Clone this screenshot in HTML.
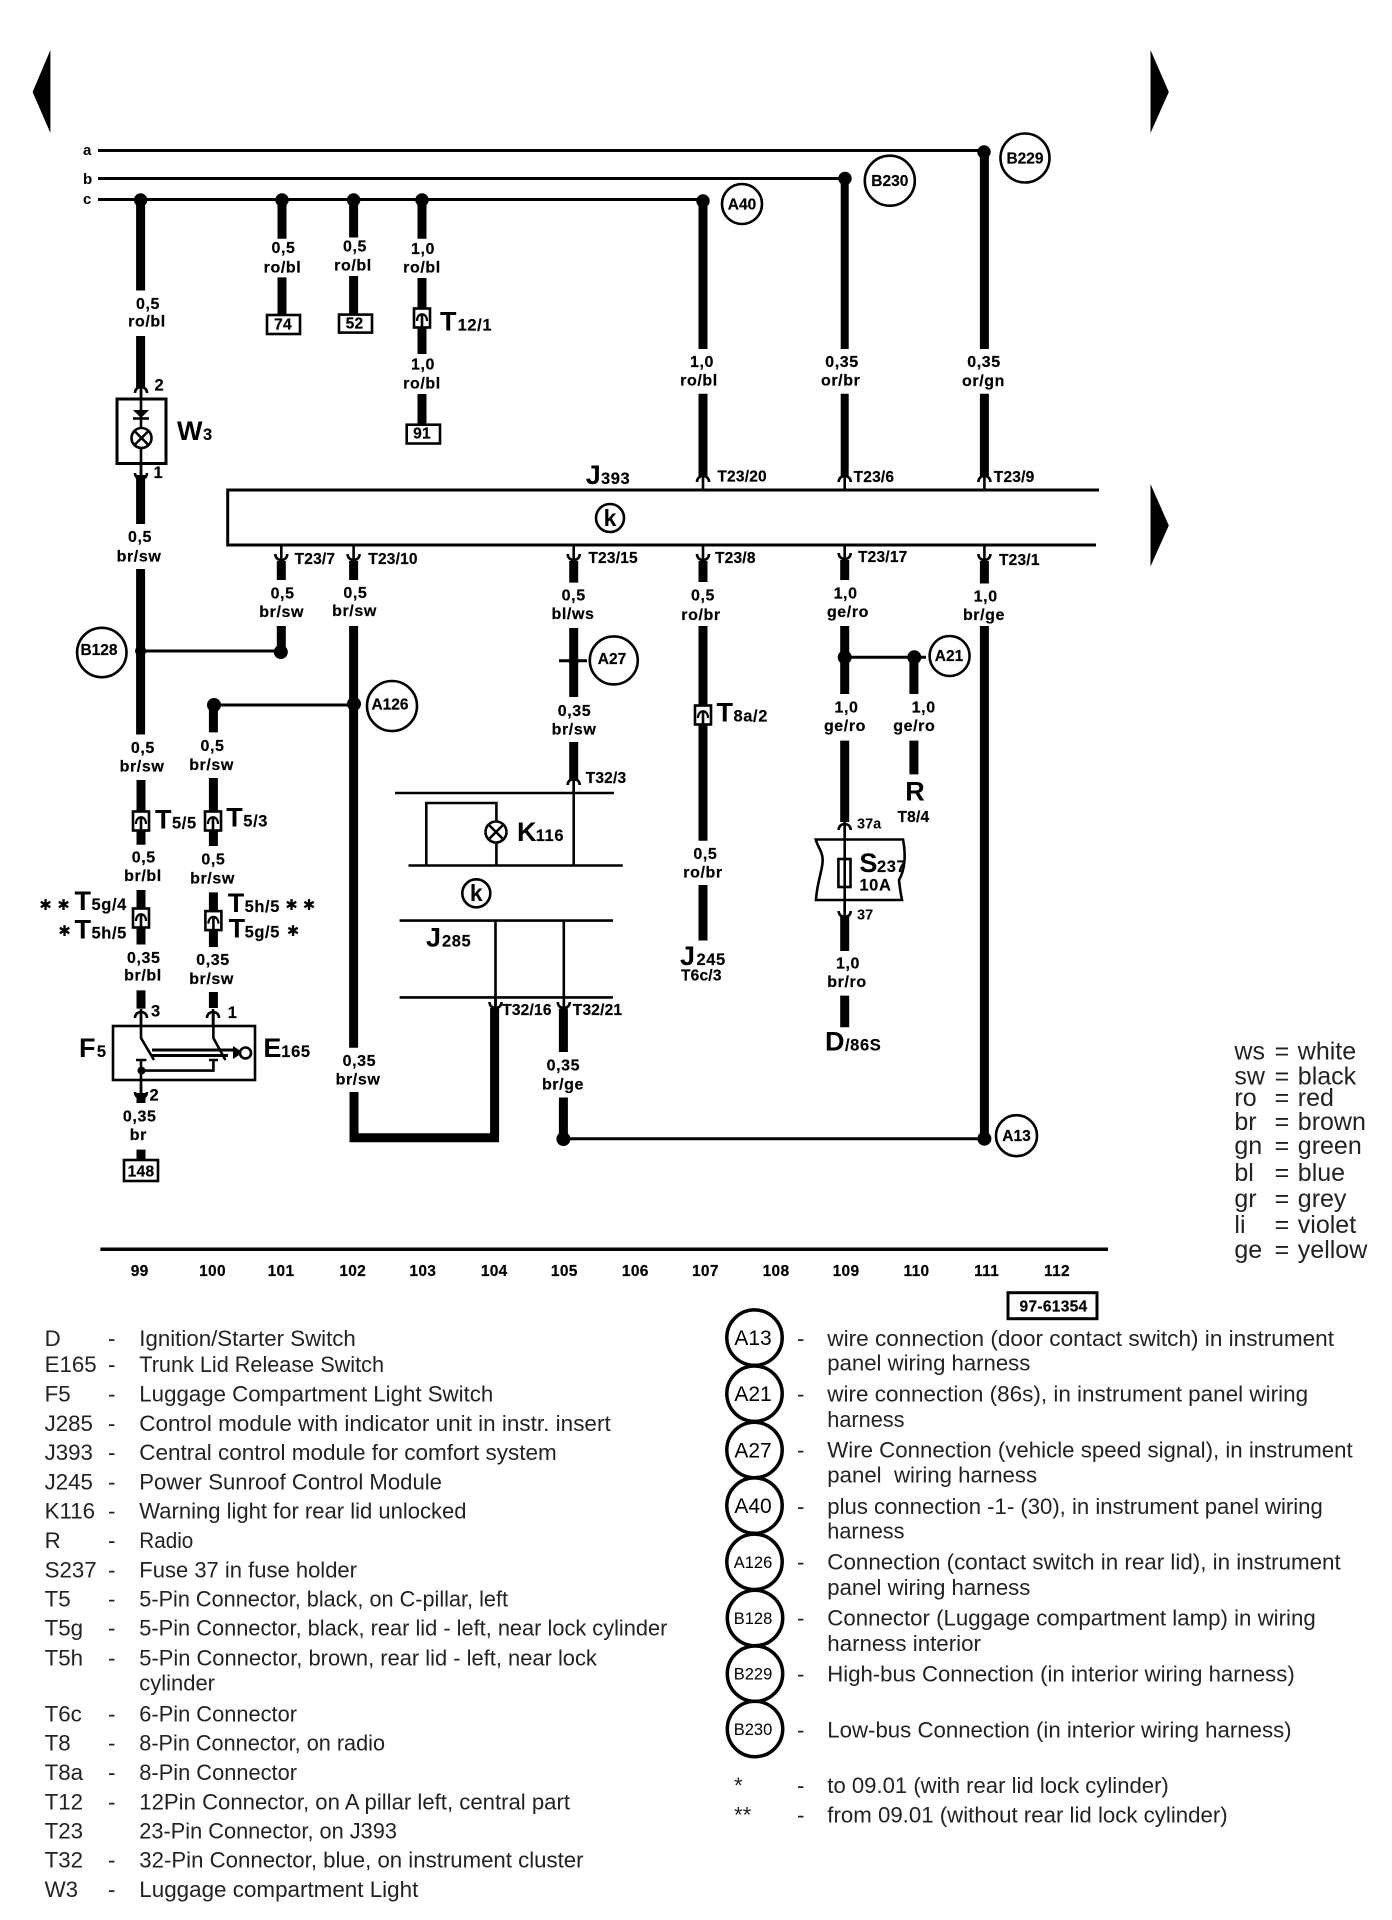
<!DOCTYPE html>
<html><head><meta charset="utf-8"><style>
html,body{margin:0;padding:0;background:#fff}
svg{display:block}
text{font-family:"Liberation Sans",sans-serif;fill:#000}
.l{font-weight:bold;font-size:16px;letter-spacing:.6px;text-anchor:middle;stroke:#000;stroke-width:.2}
.n{font-weight:bold;font-size:15.5px;text-anchor:middle;letter-spacing:.3px;stroke:#000;stroke-width:.2}
.p{font-weight:bold;font-size:15.5px;letter-spacing:.2px;stroke:#000;stroke-width:.2}
.b{font-weight:bold;font-size:27px}
.s{font-weight:bold;font-size:16.5px;letter-spacing:.6px;stroke:#000;stroke-width:.15}
.c{font-weight:bold;font-size:15.5px;text-anchor:middle;stroke:#000;stroke-width:.2}
.t{font-size:22.3px;fill:#222}
.g{font-size:25px;fill:#222}
.a{font-family:"DejaVu Sans",sans-serif;font-weight:bold;font-size:15px;text-anchor:middle}
.w{stroke:#000;stroke-width:9;fill:none}
.h{stroke:#000;stroke-width:3;fill:none}
.o{stroke:#000;stroke-width:2.6;fill:#fff}
.k{stroke:#000;stroke-width:2.6;fill:none}
</style></head><body>
<svg xmlns="http://www.w3.org/2000/svg" width="1392" height="1920" viewBox="0 0 1392 1920">
<defs>
<g id="up"><path d="M-6 6C-6-2 6-2 6 6" fill="none" stroke="#000" stroke-width="2.6"/><path d="M0-3V14" stroke="#000" stroke-width="2.6"/></g>
<g id="dn"><path d="M-6-6C-6 2 6 2 6-6" fill="none" stroke="#000" stroke-width="2.6"/><path d="M0 3V-14" stroke="#000" stroke-width="2.6"/></g>
<g id="cn"><rect x="-8" y="-9.5" width="16" height="19" fill="#fff" stroke="#000" stroke-width="2.6"/><path d="M-5 3C-5-6 5-6 5 3" fill="none" stroke="#000" stroke-width="2.2"/><path d="M0-4V9" stroke="#000" stroke-width="2.6"/></g>
</defs>

<!-- page arrows -->
<polygon points="50.4,50 32.6,92 50.4,133"/>
<polygon points="1150.5,50 1168.8,92 1150.5,133"/>
<polygon points="1150.5,484 1168.8,525.5 1150.5,566.5"/>

<!-- buses -->
<path class="h" d="M98 150.500H984M98 178.500H845M98 199.500H703"/>
<text x="83" y="155" font-size="15" font-weight="bold">a</text>
<text x="83" y="184" font-size="15" font-weight="bold">b</text>
<text x="83" y="204" font-size="15" font-weight="bold">c</text>

<!-- thick wires -->
<path class="w" d="M140.600 199V290.500M140.600 336V388M140.600 475V524M140.600 569V734.500
M282 199V238.700M282 277.400V314
M353.600 199V237.500M353.600 276V314
M422 199V238.700M422 278V354M422 394V424
M703 201V349M703 393.700V477
M984.400 152V349M984.400 393.700V477
M281.300 561V580M281.300 626V652
M353.600 561V580M353.600 626V1047.700
M573.700 561V582.600M573.700 628V697M573.700 742V781
M703 561V582M703 626V840.800M703 885V940.500
M844.700 560V580M844.700 626V694M844.700 740.600V822M844.700 915.400V951M844.700 995.600V1027.300
M984.400 561V583.500M984.400 626V1138.700
M913.900 657V694M913.900 740.600V774.400
M213.400 705V732.400M213.400 778V846M213.400 892.400V947M213.400 992V1008
M141 780V844.700M141 890V944.500M141 990.400V1008.600
M141 1093V1103M141 1149.600V1160
M563.400 1008.600V1052M563.400 1097.500V1138.700"/>
<path class="w" d="M844.700 178V349M844.700 393.700V477" style="stroke-width:8"/>
<path class="w" d="M354 1092V1137.700H494.600V1008"/>

<!-- thin connections -->
<path class="h" d="M140.600 651H280.800M214 705H354M559 660.800H587M844.700 657.300H926M563 1138.700H984.400"/>

<!-- dots -->
<g>
<circle cx="140.600" cy="200" r="6.700"/><circle cx="282" cy="200" r="6.700"/><circle cx="353.600" cy="200" r="6.700"/><circle cx="422" cy="200" r="6.700"/>
<circle cx="703" cy="201" r="6.700"/><circle cx="845" cy="178.500" r="6.700"/><circle cx="984" cy="152" r="6.700"/>
<circle cx="140.600" cy="651" r="5.500"/><circle cx="280.800" cy="652" r="7"/><circle cx="214" cy="705" r="7"/><circle cx="354" cy="704" r="7"/>
<circle cx="573.700" cy="661" r="5"/><circle cx="844.700" cy="657.300" r="7"/><circle cx="914.300" cy="657.300" r="7"/>
<circle cx="563.400" cy="1139" r="7"/><circle cx="984.400" cy="1138.700" r="7"/>
</g>

<!-- reference circles -->
<g class="o">
<circle class="o" cx="742" cy="204" r="20"/><circle class="o" cx="889.800" cy="180.700" r="25"/><circle class="o" cx="1025" cy="158" r="24.500"/>
<circle class="o" cx="101.800" cy="652.500" r="24.700"/><circle class="o" cx="392" cy="706" r="25"/><circle class="o" cx="613.800" cy="660.400" r="24"/>
<circle class="o" cx="949.600" cy="656" r="20"/><circle class="o" cx="1016.500" cy="1135.700" r="20.500"/>
</g>
<text class="c" x="742" y="209.500">A40</text><text class="c" x="889.800" y="186">B230</text><text class="c" x="1025" y="163.500">B229</text>
<text class="c" x="99" y="655">B128</text><text class="c" x="390" y="709.500">A126</text><text class="c" x="612" y="664">A27</text>
<text class="c" x="949" y="661">A21</text><text class="c" x="1016.500" y="1141">A13</text>

<!-- wire labels -->
<text class="l" x="148" y="309">0,5</text><text class="l" x="147" y="326.500">ro/bl</text>
<text class="l" x="283.500" y="253">0,5</text><text class="l" x="282.500" y="272.500">ro/bl</text>
<text class="l" x="355" y="251.300">0,5</text><text class="l" x="353" y="270.500">ro/bl</text>
<text class="l" x="423" y="253.800">1,0</text><text class="l" x="422" y="272.500">ro/bl</text>
<text class="l" x="423" y="369.600">1,0</text><text class="l" x="422" y="388.400">ro/bl</text>
<text class="l" x="702" y="367">1,0</text><text class="l" x="699" y="385.600">ro/bl</text>
<text class="l" x="842" y="367">0,35</text><text class="l" x="840.700" y="385.600">or/br</text>
<text class="l" x="984" y="367">0,35</text><text class="l" x="983.500" y="386">or/gn</text>
<text class="l" x="140" y="542">0,5</text><text class="l" x="139" y="561.500">br/sw</text>
<text class="l" x="282.600" y="598.500">0,5</text><text class="l" x="281.700" y="617">br/sw</text>
<text class="l" x="355.400" y="598">0,5</text><text class="l" x="354.500" y="616">br/sw</text>
<text class="l" x="573.700" y="600.600">0,5</text><text class="l" x="573" y="619">bl/ws</text>
<text class="l" x="703" y="600.600">0,5</text><text class="l" x="701" y="620">ro/br</text>
<text class="l" x="845.600" y="598.500">1,0</text><text class="l" x="848" y="617">ge/ro</text>
<text class="l" x="985.700" y="601.400">1,0</text><text class="l" x="984" y="620">br/ge</text>
<text class="l" x="142.900" y="752.800">0,5</text><text class="l" x="142" y="771.400">br/sw</text>
<text class="l" x="212.500" y="751">0,5</text><text class="l" x="211.600" y="770">br/sw</text>
<text class="l" x="143.800" y="862.500">0,5</text><text class="l" x="143" y="881">br/bl</text>
<text class="l" x="213.400" y="864.700">0,5</text><text class="l" x="212.500" y="883.700">br/sw</text>
<text class="l" x="143.800" y="963">0,35</text><text class="l" x="143" y="980.400">br/bl</text>
<text class="l" x="213" y="965">0,35</text><text class="l" x="211.600" y="984">br/sw</text>
<text class="l" x="139.700" y="1121.400">0,35</text><text class="l" x="138.400" y="1140">br</text>
<text class="l" x="359.400" y="1066">0,35</text><text class="l" x="358" y="1084.500">br/sw</text>
<text class="l" x="574.500" y="716">0,35</text><text class="l" x="574" y="734.500">br/sw</text>
<text class="l" x="563.400" y="1070.700">0,35</text><text class="l" x="563" y="1089.300">br/ge</text>
<text class="l" x="705.400" y="859">0,5</text><text class="l" x="703" y="877.600">ro/br</text>
<text class="l" x="846.500" y="712.400">1,0</text><text class="l" x="845" y="731">ge/ro</text>
<text class="l" x="923.700" y="712.400">1,0</text><text class="l" x="914.300" y="731">ge/ro</text>
<text class="l" x="848" y="968.700">1,0</text><text class="l" x="847" y="987">br/ro</text>

<!-- terminal boxes -->
<rect class="o" x="267" y="315" width="33" height="19"/><text class="n" x="283" y="329.500">74</text>
<rect class="o" x="339" y="314.600" width="33" height="18"/><text class="n" x="354.500" y="328.500">52</text>
<rect class="o" x="406.700" y="424.700" width="33.300" height="18.800"/><text class="n" x="422" y="438.600">91</text>
<rect class="o" x="124" y="1160" width="34" height="21"/><text class="n" x="141" y="1176.500">148</text>

<!-- W3 -->
<rect class="k" x="117" y="399" width="49" height="64.500" style="stroke-width:3"/>
<path class="k" d="M141 388V475"/>
<polygon points="133,410 149,410 141,418"/><path class="k" d="M133 418.500H149"/>
<circle class="o" cx="141.500" cy="438" r="10"/><path class="k" d="M134.500 431L148.500 445M148.500 431L134.500 445"/>
<use href="#up" x="141" y="387"/><use href="#dn" x="141" y="479"/>
<text class="s" x="154.500" y="390.500">2</text><text class="s" x="153.500" y="478">1</text>
<text class="b" x="177" y="440">W</text><text class="s" x="203" y="440">3</text>

<!-- J393 -->
<path class="k" d="M1099 490H227.700V545H1096" style="stroke-width:3"/>
<circle class="k" cx="610" cy="518" r="14"/><text x="610" y="526" font-size="23" font-weight="bold" text-anchor="middle">k</text>
<text class="b" x="585.700" y="484">J</text><text class="s" x="601" y="484">393</text>
<use href="#up" x="703" y="476"/><use href="#up" x="844.700" y="476"/><use href="#up" x="984.400" y="476"/>
<use href="#dn" x="281.300" y="560"/><use href="#dn" x="353.600" y="560"/><use href="#dn" x="573.700" y="560"/><use href="#dn" x="703" y="560"/><use href="#dn" x="844.700" y="559"/><use href="#dn" x="984.400" y="560"/>
<text class="p" x="717.400" y="481.500">T23/20</text><text class="p" x="853.600" y="482">T23/6</text><text class="p" x="993.800" y="482">T23/9</text>
<text class="p" x="294.600" y="564">T23/7</text><text class="p" x="368.300" y="564">T23/10</text><text class="p" x="588.400" y="563">T23/15</text>
<text class="p" x="715" y="563">T23/8</text><text class="p" x="858" y="562">T23/17</text><text class="p" x="999" y="565">T23/1</text>

<!-- inline connectors -->
<use href="#cn" x="422" y="318"/><use href="#cn" x="141" y="821"/><use href="#cn" x="213" y="821"/>
<use href="#cn" x="141" y="918"/><use href="#cn" x="213.400" y="920.600"/><use href="#cn" x="703" y="715"/>
<text class="b" x="440" y="330.500">T</text><text class="s" x="457.600" y="330.500">12/1</text>
<text class="b" x="155" y="828.700">T</text><text class="s" x="172" y="828.700">5/5</text>
<text class="b" x="226.300" y="826.500">T</text><text class="s" x="243.300" y="826.500">5/3</text>
<text class="b" x="74.500" y="910">T</text><text class="s" x="91.500" y="910">5g/4</text>
<text class="b" x="74.500" y="938.400">T</text><text class="s" x="91.500" y="938.400">5h/5</text>
<text class="b" x="227.700" y="912">T</text><text class="s" x="244.600" y="912">5h/5</text>
<text class="b" x="228.600" y="937.500">T</text><text class="s" x="244.600" y="937.500">5g/5</text>
<text class="b" x="716.500" y="721.500">T</text><text class="s" x="733.500" y="721.500">8a/2</text>
<text class="a" x="45.500" y="910">✱</text><text class="a" x="63.500" y="910">✱</text><text class="a" x="64.500" y="936">✱</text>
<text class="a" x="291.500" y="910">✱</text><text class="a" x="309" y="910">✱</text><text class="a" x="293" y="936">✱</text>

<!-- F5 / E165 -->
<rect class="k" x="113" y="1026" width="142" height="54"/>
<use href="#up" x="141" y="1012"/><use href="#up" x="213" y="1012"/>
<path class="k" d="M141 1012V1038L154 1060M213.400 1012V1038L225.400 1060"/>
<path class="k" d="M152 1050H236M152 1055.500H228" style="stroke-width:3"/>
<polygon points="233,1046 243,1052.500 233,1059"/>
<circle class="o" cx="245.500" cy="1053" r="5.500"/>
<path class="k" d="M136 1060H146.400M141 1060V1094M141 1070.600H213.400V1060M209 1060H218"/>
<circle cx="141.500" cy="1070.600" r="4"/>
<use href="#dn" x="141" y="1098"/>
<text class="s" x="151" y="1016.400">3</text><text class="s" x="227.700" y="1018">1</text><text class="s" x="149.500" y="1100.500">2</text>
<text class="b" x="79" y="1057">F</text><text class="s" x="96.900" y="1057">5</text>
<text class="b" x="263.400" y="1057">E</text><text class="s" x="281.300" y="1057">165</text>

<!-- J285 / K116 -->
<path class="k" d="M395 793H614M408.500 865.500H622.800M399.600 920.600H613M399.600 997.400H613"/>
<path class="k" d="M426.300 865.500V803H496.400V865.500M573.700 781V865.500M495.500 920.600V1006M563.800 920.600V1006"/>
<circle class="o" cx="496" cy="832" r="10.500"/><path class="k" d="M489 825L503 839M503 825L489 839"/>
<use href="#up" x="573.700" y="779"/><use href="#dn" x="495.500" y="1008"/><use href="#dn" x="563.800" y="1008"/>
<circle class="k" cx="476.300" cy="893.300" r="14"/><text x="476.300" y="901" font-size="23" font-weight="bold" text-anchor="middle">k</text>
<text class="b" x="517" y="840.800">K</text><text class="s" x="535.700" y="840.800">116</text>
<text class="b" x="426" y="946.600">J</text><text class="s" x="442" y="946.600">285</text>
<text class="p" x="585.700" y="783">T32/3</text><text class="p" x="502.200" y="1015">T32/16</text><text class="p" x="572.800" y="1015">T32/21</text>
<text class="b" x="680" y="965">J</text><text class="s" x="696.500" y="965">245</text><text class="p" x="681" y="980.400">T6c/3</text>

<!-- R, S237 -->
<text class="b" x="915" y="800.500" text-anchor="middle">R</text><text class="p" x="913.400" y="822" text-anchor="middle">T8/4</text>
<path class="k" d="M815.700 839.500H903C906 855 905 870 899 880C900 890 901 895 902 900H816C817 880 825 865 822 855C821 850 817 845 815.700 839.500Z"/>
<path class="k" d="M844.700 822V917"/><use href="#up" x="844.700" y="824"/><use href="#dn" x="844.700" y="917"/>
<rect class="o" x="838.400" y="859" width="12.100" height="28"/><path class="k" d="M844.700 859V887"/>
<text class="b" x="859.400" y="872">S</text><text class="s" x="877" y="872">237</text><text class="s" x="859.400" y="890.700">10A</text>
<text x="857" y="828.700" font-size="14.500" font-weight="bold">37a</text><text x="857" y="919.700" font-size="14.500" font-weight="bold">37</text>
<text class="b" x="825" y="1050.700">D</text><text class="s" x="845" y="1050.700">/86S</text>

<!-- colour legend -->
<g class="g">
<text class="g" x="1234.400" y="1059.400">ws</text><text class="g" x="1274.600" y="1059.400">=</text><text class="g" x="1297.800" y="1059.400">white</text>
<text class="g" x="1234.400" y="1084.500">sw</text><text class="g" x="1274.600" y="1084.500">=</text><text class="g" x="1297.800" y="1084.500">black</text>
<text class="g" x="1234.400" y="1106">ro</text><text class="g" x="1274.600" y="1106">=</text><text class="g" x="1297.800" y="1106">red</text>
<text class="g" x="1234.400" y="1130">br</text><text class="g" x="1274.600" y="1130">=</text><text class="g" x="1297.800" y="1130">brown</text>
<text class="g" x="1234.400" y="1154">gn</text><text class="g" x="1274.600" y="1154">=</text><text class="g" x="1297.800" y="1154">green</text>
<text class="g" x="1234.400" y="1180.800">bl</text><text class="g" x="1274.600" y="1180.800">=</text><text class="g" x="1297.800" y="1180.800">blue</text>
<text class="g" x="1234.400" y="1207">gr</text><text class="g" x="1274.600" y="1207">=</text><text class="g" x="1297.800" y="1207">grey</text>
<text class="g" x="1234.400" y="1233">li</text><text class="g" x="1274.600" y="1233">=</text><text class="g" x="1297.800" y="1233">violet</text>
<text class="g" x="1234.400" y="1258">ge</text><text class="g" x="1274.600" y="1258">=</text><text class="g" x="1297.800" y="1258">yellow</text>
</g>

<!-- scale -->
<path d="M100.400 1249.300H1108" stroke="#000" stroke-width="3.500"/>
<text class="n" x="139.700" y="1276">99</text><text class="n" x="212.500" y="1276">100</text><text class="n" x="281" y="1276">101</text><text class="n" x="352.700" y="1276">102</text><text class="n" x="422.800" y="1276">103</text><text class="n" x="494.200" y="1276">104</text><text class="n" x="564.300" y="1276">105</text><text class="n" x="635.300" y="1276">106</text><text class="n" x="705.400" y="1276">107</text><text class="n" x="776" y="1276">108</text><text class="n" x="846" y="1276">109</text><text class="n" x="916.500" y="1276">110</text><text class="n" x="986.600" y="1276">111</text><text class="n" x="1057" y="1276">112</text>
<rect class="k" x="1008" y="1292.700" width="89" height="26" style="stroke-width:3"/><text class="n" x="1053.500" y="1311.500">97-61354</text>

<!-- component legend -->
<g lengthAdjust="spacingAndGlyphs">
<text class="t" x="44.600" y="1346">D</text><text class="t" x="108" y="1346">-</text><text class="t" x="139.300" y="1346" textLength="216.500" lengthAdjust="spacingAndGlyphs">Ignition/Starter Switch</text>
<text class="t" x="44.600" y="1372">E165</text><text class="t" x="108" y="1372">-</text><text class="t" x="139.300" y="1372" textLength="244.700" lengthAdjust="spacingAndGlyphs">Trunk Lid Release Switch</text>
<text class="t" x="44.600" y="1401.700">F5</text><text class="t" x="108" y="1401.700">-</text><text class="t" x="139.300" y="1401.700" textLength="354" lengthAdjust="spacingAndGlyphs">Luggage Compartment Light Switch</text>
<text class="t" x="44.600" y="1431">J285</text><text class="t" x="108" y="1431">-</text><text class="t" x="139.300" y="1431" textLength="471.400" lengthAdjust="spacingAndGlyphs">Control module with indicator unit in instr. insert</text>
<text class="t" x="44.600" y="1460.200">J393</text><text class="t" x="108" y="1460.200">-</text><text class="t" x="139.300" y="1460.200" textLength="417.400" lengthAdjust="spacingAndGlyphs">Central control module for comfort system</text>
<text class="t" x="44.600" y="1489.500">J245</text><text class="t" x="108" y="1489.500">-</text><text class="t" x="139.300" y="1489.500" textLength="302.700" lengthAdjust="spacingAndGlyphs">Power Sunroof Control Module</text>
<text class="t" x="44.600" y="1518.700">K116</text><text class="t" x="108" y="1518.700">-</text><text class="t" x="139.300" y="1518.700" textLength="327.200" lengthAdjust="spacingAndGlyphs">Warning light for rear lid unlocked</text>
<text class="t" x="44.600" y="1548">R</text><text class="t" x="108" y="1548">-</text><text class="t" x="139.300" y="1548" textLength="54" lengthAdjust="spacingAndGlyphs">Radio</text>
<text class="t" x="44.600" y="1577.300">S237</text><text class="t" x="108" y="1577.300">-</text><text class="t" x="139.300" y="1577.300" textLength="217.700" lengthAdjust="spacingAndGlyphs">Fuse 37 in fuse holder</text>
<text class="t" x="44.600" y="1606.500">T5</text><text class="t" x="108" y="1606.500">-</text><text class="t" x="139.300" y="1606.500" textLength="368.700" lengthAdjust="spacingAndGlyphs">5-Pin Connector, black, on C-pillar, left</text>
<text class="t" x="44.600" y="1635.700">T5g</text><text class="t" x="108" y="1635.700">-</text><text class="t" x="139.300" y="1635.700" textLength="528.100" lengthAdjust="spacingAndGlyphs">5-Pin Connector, black, rear lid - left, near lock cylinder</text>
<text class="t" x="44.600" y="1665.400">T5h</text><text class="t" x="108" y="1665.400">-</text><text class="t" x="139.300" y="1665.400" textLength="457.600" lengthAdjust="spacingAndGlyphs">5-Pin Connector, brown, rear lid - left, near lock</text>
<text class="t" x="139.300" y="1690.300" textLength="75.700" lengthAdjust="spacingAndGlyphs">cylinder</text>
<text class="t" x="44.600" y="1721.700">T6c</text><text class="t" x="108" y="1721.700">-</text><text class="t" x="139.300" y="1721.700" textLength="157.700" lengthAdjust="spacingAndGlyphs">6-Pin Connector</text>
<text class="t" x="44.600" y="1750.700">T8</text><text class="t" x="108" y="1750.700">-</text><text class="t" x="139.300" y="1750.700" textLength="245.700" lengthAdjust="spacingAndGlyphs">8-Pin Connector, on radio</text>
<text class="t" x="44.600" y="1780">T8a</text><text class="t" x="108" y="1780">-</text><text class="t" x="139.300" y="1780" textLength="157.700" lengthAdjust="spacingAndGlyphs">8-Pin Connector</text>
<text class="t" x="44.600" y="1809.400">T12</text><text class="t" x="108" y="1809.400">-</text><text class="t" x="139.300" y="1809.400" textLength="430.700" lengthAdjust="spacingAndGlyphs">12Pin Connector, on A pillar left, central part</text>
<text class="t" x="44.600" y="1838.700">T23</text><text class="t" x="139.300" y="1838.700" textLength="257.700" lengthAdjust="spacingAndGlyphs">23-Pin Connector, on J393</text>
<text class="t" x="44.600" y="1867.700">T32</text><text class="t" x="108" y="1867.700">-</text><text class="t" x="139.300" y="1867.700" textLength="444.200" lengthAdjust="spacingAndGlyphs">32-Pin Connector, blue, on instrument cluster</text>
<text class="t" x="44.600" y="1897">W3</text><text class="t" x="108" y="1897">-</text><text class="t" x="139.300" y="1897" textLength="279" lengthAdjust="spacingAndGlyphs">Luggage compartment Light</text>
</g>

<!-- circle legend -->
<g fill="none" stroke="#000" stroke-width="3.500">
<circle cx="754.500" cy="1337.600" r="27.700"/><circle cx="754.500" cy="1393.700" r="27.700"/><circle cx="754.500" cy="1450" r="27.700"/><circle cx="754.500" cy="1505.600" r="27.700"/><circle cx="754.500" cy="1561.800" r="27.700"/><circle cx="755" cy="1618" r="27.700"/><circle cx="755" cy="1673.700" r="27.700"/><circle cx="755" cy="1729" r="27.700"/>
</g>
<g text-anchor="middle">
<text x="753" y="1345" font-size="21">A13</text><text x="753" y="1401" font-size="21">A21</text><text x="753" y="1457.500" font-size="21">A27</text><text x="753" y="1513" font-size="21">A40</text>
<text x="753" y="1567.800" font-size="16.500">A126</text><text x="753" y="1624" font-size="16.500">B128</text><text x="753" y="1679.700" font-size="16.500">B229</text><text x="753" y="1735" font-size="16.500">B230</text>
</g>
<text class="t" x="797" y="1346">-</text><text class="t" x="827.300" y="1346" textLength="506.700" lengthAdjust="spacingAndGlyphs">wire connection (door contact switch) in instrument</text><text class="t" x="827.300" y="1370.700" textLength="203" lengthAdjust="spacingAndGlyphs">panel wiring harness</text>
<text class="t" x="797" y="1401.700">-</text><text class="t" x="827.300" y="1401.700" textLength="480.800" lengthAdjust="spacingAndGlyphs">wire connection (86s), in instrument panel wiring</text><text class="t" x="827.300" y="1427" textLength="77.200" lengthAdjust="spacingAndGlyphs">harness</text>
<text class="t" x="797" y="1457.700">-</text><text class="t" x="827.300" y="1457.700" textLength="525.400" lengthAdjust="spacingAndGlyphs">Wire Connection (vehicle speed signal), in instrument</text><text class="t" x="827.300" y="1482.700" xml:space="preserve" textLength="209.800" lengthAdjust="spacingAndGlyphs">panel  wiring harness</text>
<text class="t" x="797" y="1514">-</text><text class="t" x="827.300" y="1514" textLength="495.500" lengthAdjust="spacingAndGlyphs">plus connection -1- (30), in instrument panel wiring</text><text class="t" x="827.300" y="1538.700" textLength="77.200" lengthAdjust="spacingAndGlyphs">harness</text>
<text class="t" x="797" y="1569.700">-</text><text class="t" x="827.300" y="1569.700" textLength="513.400" lengthAdjust="spacingAndGlyphs">Connection (contact switch in rear lid), in instrument</text><text class="t" x="827.300" y="1595" textLength="203" lengthAdjust="spacingAndGlyphs">panel wiring harness</text>
<text class="t" x="797" y="1625.700">-</text><text class="t" x="827.300" y="1625.700" textLength="488.400" lengthAdjust="spacingAndGlyphs">Connector (Luggage compartment lamp) in wiring</text><text class="t" x="827.300" y="1651.200" textLength="153.600" lengthAdjust="spacingAndGlyphs">harness interior</text>
<text class="t" x="797" y="1681.700">-</text><text class="t" x="827.300" y="1681.700" textLength="467.400" lengthAdjust="spacingAndGlyphs">High-bus Connection (in interior wiring harness)</text>
<text class="t" x="797" y="1737.400">-</text><text class="t" x="827.300" y="1737.400" textLength="464.300" lengthAdjust="spacingAndGlyphs">Low-bus Connection (in interior wiring harness)</text>
<text class="t" x="734" y="1793.200">*</text><text class="t" x="797" y="1793.200">-</text><text class="t" x="827.300" y="1793.200" textLength="341.500" lengthAdjust="spacingAndGlyphs">to 09.01 (with rear lid lock cylinder)</text>
<text class="t" x="734" y="1822.700">**</text><text class="t" x="797" y="1822.700">-</text><text class="t" x="827.300" y="1822.700" textLength="400.400" lengthAdjust="spacingAndGlyphs">from 09.01 (without rear lid lock cylinder)</text>
</svg>
</body></html>
